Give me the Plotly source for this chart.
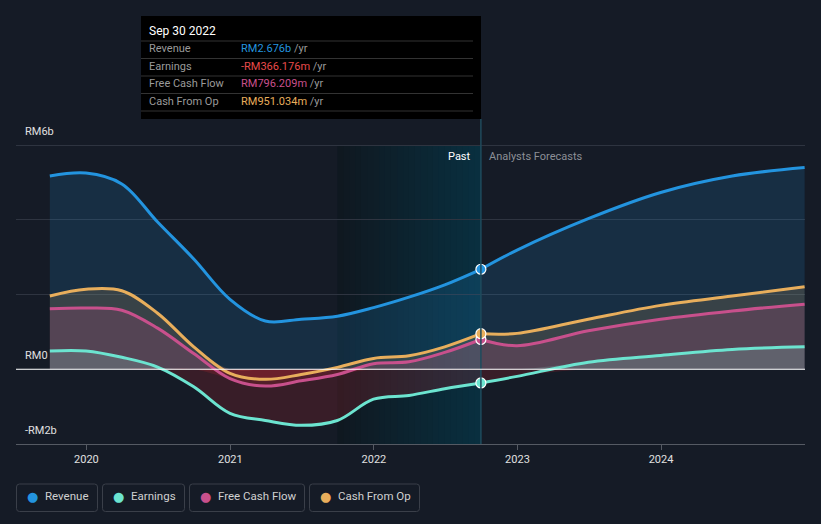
import plotly.graph_objects as go
import numpy as np

# ---------------- data ----------------
past_dates = ["2019-09-30", "2019-12-31", "2020-03-31", "2020-06-30", "2020-09-30",
              "2020-12-31", "2021-03-31", "2021-06-30", "2021-09-30", "2021-12-31",
              "2022-03-31", "2022-06-30", "2022-09-30"]
fc_dates = ["2022-09-30", "2022-12-31", "2023-06-30", "2023-12-31", "2024-06-30", "2024-12-31"]

revenue_past = [5.17, 5.25, 4.96, 3.94, 2.95, 1.87, 1.29, 1.34, 1.42, 1.65, 1.93, 2.26, 2.676]
earnings_past = [0.49, 0.49, 0.32, 0.06, -0.47, -1.18, -1.37, -1.50, -1.37, -0.80, -0.70, -0.52, -0.366]
fcf_past = [1.62, 1.64, 1.58, 1.10, 0.42, -0.25, -0.45, -0.31, -0.14, 0.15, 0.20, 0.45, 0.796]
cfo_past = [1.96, 2.14, 2.10, 1.50, 0.60, -0.11, -0.27, -0.14, 0.05, 0.29, 0.36, 0.60, 0.951]

revenue_fc = [2.676, 3.19, 4.03, 4.73, 5.17, 5.40]
earnings_fc = [-0.366, -0.19, 0.19, 0.37, 0.53, 0.60]
fcf_fc = [0.796, 0.63, 1.03, 1.34, 1.56, 1.74]
cfo_fc = [0.951, 0.96, 1.34, 1.71, 1.96, 2.21]

names = ["Revenue", "Earnings", "Free Cash Flow", "Cash From Op"]
colors = ["#2394DF", "#6CE4D0", "#C8508C", "#E8AE5C"]
fill_pos = ["rgba(35,148,223,0.16)", "rgba(140,200,195,0.22)", "rgba(200,80,140,0.20)", "rgba(232,174,92,0.16)"]
neg_fill = "rgba(200,40,50,0.2)"

tooltip_date = "Sep 30 2022"
tooltip_vals = ["RM2.676b", "-RM366.176m", "RM796.209m", "RM951.034m"]
tooltip_colors = ["#2394DF", "#E84B4B", "#C8508C", "#E8AE5C"]

y_tick_vals = [6, 0, -2]
y_tick_text = ["RM6b", "RM0", "-RM2b"]

series_past = [revenue_past, earnings_past, fcf_past, cfo_past]
series_fc = [revenue_fc, earnings_fc, fcf_fc, cfo_fc]

# ---------------- geometry helpers ----------------
W, H = 821, 524
L, R, T, B = 16, 16, 120, 80
PW, PH = W - L - R, H - T - B


def px(x):
    return (x - L) / PW


def py(y):
    return (H - B - y) / PH


BG = "#151B26"
fig = go.Figure()

all_dates = past_dates + fc_dates[1:]
for i in [0, 3, 2, 1]:
    vals = np.array(series_past[i] + series_fc[i][1:])
    fig.add_trace(go.Scatter(x=all_dates, y=np.maximum(vals, 0), mode="lines",
                             line=dict(width=0, shape="spline", smoothing=1.0),
                             fill="tozeroy", fillcolor=fill_pos[i], hoverinfo="skip",
                             showlegend=False))
    if vals.min() < 0:
        fig.add_trace(go.Scatter(x=all_dates, y=np.minimum(vals, 0), mode="lines",
                                 line=dict(width=0, shape="spline", smoothing=1.0),
                                 fill="tozeroy", fillcolor=neg_fill, hoverinfo="skip",
                                 showlegend=False))

for i in [1, 2, 3, 0]:
    fig.add_trace(go.Scatter(x=past_dates, y=series_past[i], mode="lines",
                             line=dict(color=colors[i], width=3, shape="spline", smoothing=1.0),
                             hoverinfo="skip", showlegend=False))
    fig.add_trace(go.Scatter(x=fc_dates, y=series_fc[i], mode="lines",
                             line=dict(color=colors[i], width=3, shape="spline", smoothing=1.0),
                             hoverinfo="skip", showlegend=False))
for i in [1, 2, 3, 0]:
    fig.add_trace(go.Scatter(x=[past_dates[-1]], y=[series_past[i][-1]], mode="markers",
                             marker=dict(color=colors[i], size=10, line=dict(color="#FFFFFF", width=1.2)),
                             hoverinfo="skip", showlegend=False))

shapes = []
# past band gradient
n = 24
t0 = np.datetime64("2021-09-30")
t1 = np.datetime64("2022-09-30")
span = (t1 - t0).astype(int)
c0 = np.array([16, 24, 32])
c1 = np.array([9, 48, 64])
for k in range(n):
    a = t0 + np.timedelta64(int(span * k / n), "D")
    b = t0 + np.timedelta64(int(span * (k + 1) / n) + 1, "D")
    c = c0 + (c1 - c0) * (k + 0.5) / n
    shapes.append(dict(type="rect", xref="x", yref="y", x0=str(a), x1=str(b), y0=-2, y1=6,
                       fillcolor="rgb(%d,%d,%d)" % tuple(c.astype(int)), line=dict(width=0), layer="below"))
# divider line
shapes.append(dict(type="line", xref="x", yref="paper", x0="2022-09-30", x1="2022-09-30",
                   y0=0, y1=py(119), line=dict(color="#1F4A5C", width=1.5), layer="above"))
# zero line
shapes.append(dict(type="line", xref="paper", yref="y", x0=0, x1=1, y0=0, y1=0,
                   line=dict(color="#FFFFFF", width=1.2), layer="above"))
# tooltip box
shapes.append(dict(type="rect", xref="paper", yref="paper", x0=px(141), x1=px(481), y0=py(119), y1=py(16),
                   fillcolor="#000000", line=dict(width=0), layer="above"))
for yy in [41, 58.5, 76, 93.5, 111]:
    shapes.append(dict(type="line", xref="paper", yref="paper", x0=px(141), x1=px(473), y0=py(yy), y1=py(yy),
                       line=dict(color="#333333", width=1), layer="above"))

annotations = []
annotations.append(dict(text=tooltip_date, x=px(147), y=py(31), xref="paper", yref="paper",
                        xanchor="left", yanchor="middle", showarrow=False,
                        font=dict(color="#FFFFFF", size=12, family="Roboto")))
row_y = [49, 66.5, 84, 101.5]
for i in range(4):
    annotations.append(dict(text=names[i], x=px(147), y=py(row_y[i]), xref="paper", yref="paper",
                            xanchor="left", yanchor="middle", showarrow=False,
                            font=dict(color="#9A9A9A", size=11, family="Roboto")))
    annotations.append(dict(text="<span style='color:%s'>%s</span> /yr" % (tooltip_colors[i], tooltip_vals[i]),
                            x=px(239), y=py(row_y[i]), xref="paper", yref="paper",
                            xanchor="left", yanchor="middle", showarrow=False,
                            font=dict(color="#9A9A9A", size=11, family="Roboto")))

# y labels
for v, t in zip(y_tick_vals, y_tick_text):
    annotations.append(dict(text=t, x=px(23), y=v, xref="paper", yref="y", xanchor="left",
                            yanchor="bottom", yshift=5, showarrow=False,
                            font=dict(color="#E0E0E0", size=11, family="Roboto")))

annotations.append(dict(text="Past", x="2022-09-30", y=py(156), xref="x", yref="paper", xanchor="right",
                        yanchor="middle", xshift=-8, showarrow=False,
                        font=dict(color="#FFFFFF", size=11, family="Roboto")))
annotations.append(dict(text="Analysts Forecasts", x="2022-09-30", y=py(156), xref="x", yref="paper",
                        xanchor="left", yanchor="middle", xshift=6, showarrow=False,
                        font=dict(color="#8C8F96", size=11, family="Roboto")))

# legend boxes
boxes = [(16.5, 97.5), (102.5, 184.5), (189.5, 304.5), (309.5, 419.5)]
for i, (x0, x1) in enumerate(boxes):
    r = 3
    y0, y1 = 484, 511.5
    path = ("M {a},{b} L {c},{b} Q {d},{b} {d},{e} L {d},{f} Q {d},{g} {c},{g} L {a},{g} "
            "Q {h},{g} {h},{f} L {h},{e} Q {h},{b} {a},{b} Z").format(
        a=px(x0 + r), b=py(y0), c=px(x1 - r), d=px(x1), e=py(y0 + r), f=py(y1 - r), g=py(y1), h=px(x0))
    shapes.append(dict(type="path", xref="paper", yref="paper", path=path,
                       line=dict(color="#3A3F49", width=1), fillcolor="rgba(0,0,0,0)"))
    annotations.append(dict(text="<span style='color:%s;font-size:13px'>●</span>" % colors[i],
                            x=px(x0 + 15.5), y=py(496), xref="paper", yref="paper",
                            xanchor="center", yanchor="middle", showarrow=False,
                            font=dict(size=13, family="DejaVu Sans")))
    annotations.append(dict(text=names[i], x=px(x0 + 26), y=py(496), xref="paper", yref="paper",
                            xanchor="left", yanchor="middle", showarrow=False,
                            font=dict(color="#D0D0D0", size=11.5, family="Roboto")))

fig.update_layout(
    width=W, height=H,
    margin=dict(l=L, r=R, t=T, b=B, pad=0),
    paper_bgcolor=BG, plot_bgcolor=BG,
    showlegend=False,
    shapes=shapes, annotations=annotations,
    font=dict(family="Roboto", color="#E0E0E0"),
    xaxis=dict(type="date", range=["2019-07-06", "2025-01-01"], showgrid=False,
               tickvals=["2020-01-01", "2021-01-01", "2022-01-01", "2023-01-01", "2024-01-01"],
               ticktext=["2020", "2021", "2022", "2023", "2024"],
               ticks="outside", ticklen=5, tickcolor="#555A63", tickwidth=1,
               showline=True, linecolor="#555A63", linewidth=1,
               tickfont=dict(size=11, color="#E0E0E0", family="Roboto"), zeroline=False,
               fixedrange=True),
    yaxis=dict(range=[-2, 6.67], tickvals=[-2, 0, 2, 4, 6], showticklabels=False,
               showgrid=True, gridcolor="#2E3440", gridwidth=1, zeroline=False, fixedrange=True),
)

fig.write_html("out.html", config={"displayModeBar": False},
               post_script="document.body.style.margin='0';document.body.style.overflow='hidden';")
